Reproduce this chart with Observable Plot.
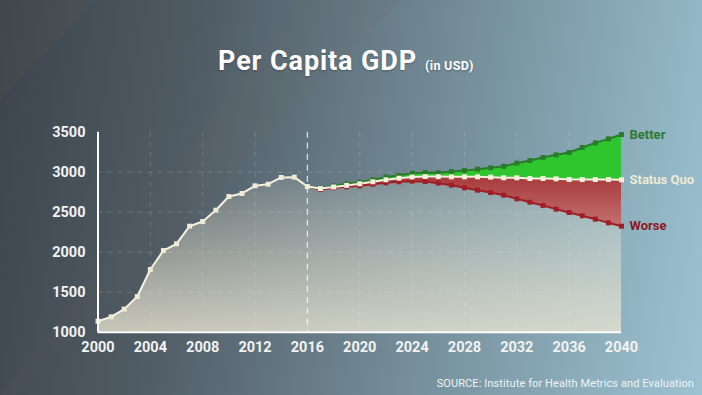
<!DOCTYPE html>
<html>
<head>
<meta charset="utf-8">
<script src="https://cdn.jsdelivr.net/npm/d3@7"></script>
<script src="https://cdn.jsdelivr.net/npm/@observablehq/plot@0.6"></script>
<style>
  html, body { margin: 0; padding: 0; }
  body { width: 702px; height: 395px; overflow: hidden; font-family: Roboto, "DejaVu Sans", sans-serif; }
  #wrap {
    position: relative; width: 702px; height: 395px; overflow: hidden;
    background: linear-gradient(100deg, #3c444b 0%, #515d66 28%, #718995 58%, #9cc3d3 100%);
  }
  #sheen {
    position: absolute; left: 0; top: 0; width: 702px; height: 395px;
    background: rgba(120,100,80,0.10);
    clip-path: polygon(0 0, 97px 0, 0 100px);
  }
  #sheen2 {
    position: absolute; left: 0; top: 0; width: 702px; height: 395px;
    background: rgba(120,105,90,0.08);
    clip-path: polygon(0 395px, 17px 395px, 402px 0, 300px 0, 0 395px);
  }
  #chart { position: absolute; left: 0; top: 0; }
  #title {
    position: absolute; left: 218px; top: 45px;
    color: #ffffff; font-weight: 700; font-size: 27px; line-height: 32px; white-space: nowrap;
    letter-spacing: 0.9px;
    text-shadow: 0 1px 2px rgba(0,0,0,0.25);
  }
  #title small { font-size: 12.5px; font-weight: 700; margin-left: 8px; letter-spacing: 0.3px; }
  #source {
    position: absolute; right: 8px; top: 376px; color: #eef3f5; font-size: 11px;
    line-height: 16px; letter-spacing: 0.1px; white-space: nowrap;
  }
</style>
</head>
<body>
<div id="wrap">
  <div id="sheen"></div>
  <div id="sheen2"></div>
  <div id="chart"></div>
  <div id="title">Per Capita GDP<small>(in USD)</small></div>
  <div id="source">SOURCE: Institute for Health Metrics and Evaluation</div>
</div>
<script>
// ---- data ----
const histYears = [2000,2001,2002,2003,2004,2005,2006,2007,2008,2009,2010,2011,2012,2013,2014,2015,2016];
const histValues = [1137,1192,1288,1446,1784,2021,2105,2325,2384,2525,2696,2734,2830,2850,2934,2938,2821];
const projYears = [2016,2017,2018,2019,2020,2021,2022,2023,2024,2025,2026,2027,2028,2029,2030,2031,2032,2033,2034,2035,2036,2037,2038,2039,2040];
const better    = [2821,2800,2830,2855,2875,2905,2938,2963,2988,2996,2992,3009,3021,3038,3055,3075,3113,3146,3184,3217,3246,3309,3367,3417,3471];
const statusQuo = [2821,2795,2815,2835,2855,2880,2905,2925,2940,2945,2945,2942,2942,2942,2938,2930,2930,2921,2921,2917,2909,2909,2909,2909,2905];
const worse     = [2821,2784,2805,2817,2830,2850,2867,2880,2888,2884,2863,2838,2805,2775,2746,2713,2667,2625,2584,2538,2496,2455,2413,2367,2325];
const xTicks = [2000,2004,2008,2012,2016,2020,2024,2028,2032,2036,2040];
const yTicks = [1000,1500,2000,2500,3000,3500];
const gridX = [2004,2008,2012,2020,2024,2028,2032,2036];
const gridY = [1500,2000,2500,3000];
const splitYear = [2016];
const seriesLabels = ["Better","Status Quo","Worse"];

// ---- derived tables ----
const hist = histYears.map((year, i) => ({year, value: histValues[i]}));
const proj = projYears.map((year, i) => ({year, better: better[i], sq: statusQuo[i], worse: worse[i]}));
const projDots = proj.slice(1);
const total = hist.concat(proj.slice(1).map(d => ({year: d.year, value: d.sq})));
const last = proj[proj.length - 1];
const labels = [
  {year: last.year, value: last.better, text: seriesLabels[0], color: "#2c7a2e"},
  {year: last.year, value: last.sq, text: seriesLabels[1], color: "#efe9d4"},
  {year: last.year, value: last.worse, text: seriesLabels[2], color: "#8c1a20"}
];

const defs = () => {
  const g = d3.create("svg:g");
  const d = g.append("defs");
  const a = d.append("linearGradient").attr("id", "baseFill").attr("x1", 0).attr("y1", 0).attr("x2", 0).attr("y2", 1);
  a.append("stop").attr("offset", "0%").attr("stop-color", "#e6e2cf").attr("stop-opacity", 0.15);
  a.append("stop").attr("offset", "100%").attr("stop-color", "#e6e2cf").attr("stop-opacity", 0.8);
  const r = d.append("linearGradient").attr("id", "redFill").attr("x1", 0).attr("y1", 0).attr("x2", 0).attr("y2", 1);
  r.append("stop").attr("offset", "0%").attr("stop-color", "#a83a3c");
  r.append("stop").attr("offset", "100%").attr("stop-color", "#c27070");
  return g.node();
};

const chart = Plot.plot({
  width: 702,
  height: 395,
  marginLeft: 97.5,
  marginRight: 81,
  marginTop: 131.7,
  marginBottom: 63.3,
  style: {
    background: "transparent",
    color: "#f2f2f2",
    fontFamily: "Roboto, 'DejaVu Sans', sans-serif",
    fontSize: "14.5px",
    fontWeight: "700"
  },
  x: {domain: [2000, 2040], ticks: xTicks, tickFormat: d => String(d), tickSize: 0, tickPadding: 10, label: null},
  y: {domain: [1000, 3500], ticks: yTicks, tickFormat: d => String(d), tickSize: 0, tickPadding: 12.5, label: null},
  marks: [
    defs,
    Plot.areaY(total, {x: "year", y1: 1000, y2: "value", fill: "url(#baseFill)"}),
    Plot.ruleX(gridX, {stroke: "#ffffff", strokeOpacity: 0.16, strokeDasharray: "5,5"}),
    Plot.ruleY(gridY, {stroke: "#ffffff", strokeOpacity: 0.16, strokeDasharray: "5,5"}),
    Plot.ruleX(splitYear, {stroke: "#ffffff", strokeOpacity: 0.75, strokeWidth: 1.3, strokeDasharray: "6,5"}),
    Plot.areaY(proj, {x: "year", y1: "worse", y2: "sq", fill: "url(#redFill)"}),
    Plot.areaY(proj, {x: "year", y1: "sq", y2: "better", fill: "#2fc52f"}),
    Plot.line(proj, {x: "year", y: "worse", stroke: "#a01e26", strokeWidth: 2}),
    Plot.line(proj, {x: "year", y: "better", stroke: "#2a7a2c", strokeWidth: 2}),
    Plot.line(proj, {x: "year", y: "sq", stroke: "#f6f1de", strokeWidth: 2}),
    Plot.line(hist, {x: "year", y: "value", stroke: "#f6f1de", strokeWidth: 2}),
    Plot.dot(projDots, {x: "year", y: "worse", symbol: "square", r: 2.8, fill: "#a01e26", stroke: "none"}),
    Plot.dot(projDots, {x: "year", y: "better", symbol: "square", r: 2.8, fill: "#2a7a2c", stroke: "none"}),
    Plot.dot(projDots, {x: "year", y: "sq", symbol: "square", r: 2.8, fill: "#f6f1de", stroke: "none"}),
    Plot.dot(hist, {x: "year", y: "value", symbol: "square", r: 2.8, fill: "#efe9d6", stroke: "none"}),
    Plot.ruleY([1000], {stroke: "#ffffff", strokeWidth: 2}),
    Plot.ruleX([2000], {y1: 1000, y2: 3500, stroke: "#ffffff", strokeWidth: 2}),
    Plot.text(labels, {x: "year", y: "value", text: "text", fill: "color", dx: 8, textAnchor: "start", fontSize: 13, fontWeight: 700})
  ]
});
document.getElementById("chart").appendChild(chart);
</script>
</body>
</html>
